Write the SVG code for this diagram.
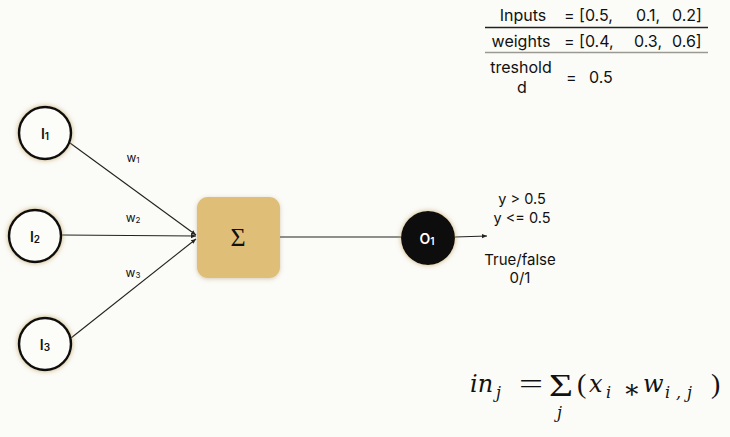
<svg xmlns="http://www.w3.org/2000/svg" width="730" height="437" viewBox="0 0 730 437">
<defs>
<style>
.t{font-family:Inter,"Liberation Sans",sans-serif;fill:#111;}
.tab{font-size:16px;}
.nd{fill:#fcfcf8;stroke:#111;stroke-width:2.5;}
.lbl{font-family:Inter,"Liberation Sans",sans-serif;font-weight:600;font-size:14px;fill:#111;}
.w{font-family:Inter,"Liberation Sans",sans-serif;font-size:12px;fill:#111;}
.edge{stroke:#222;stroke-width:1.1;fill:none;}
.m{font-family:"DejaVu Serif","Liberation Serif",serif;font-style:italic;fill:#111;}
.r{font-family:"Liberation Serif","DejaVu Serif",serif;fill:#111;}
</style>
<filter id="glow" x="-50%" y="-50%" width="200%" height="200%">
<feDropShadow dx="0" dy="0" stdDeviation="2.6" flood-color="#b89858" flood-opacity="0.75"/>
</filter>
<filter id="sh" x="-20%" y="-20%" width="140%" height="140%">
<feDropShadow dx="0" dy="1" stdDeviation="2" flood-color="#8a7040" flood-opacity="0.35"/>
</filter>
<marker id="arr" markerWidth="6" markerHeight="6" refX="5" refY="3" orient="auto" markerUnits="userSpaceOnUse">
<path d="M0,0.8 L5,3 L0,5.2 Z" fill="#222"/>
</marker>
</defs>
<rect width="730" height="437" fill="#fbfbf7"/>

<g id="table">
<text class="t tab" x="523" y="21" text-anchor="middle">Inputs</text>
<text class="t tab" x="564" y="21">= [0.5,</text>
<text class="t tab" x="636" y="21">0.1,</text>
<text class="t tab" x="672" y="21">0.2]</text>
<line x1="485" y1="27.5" x2="708" y2="27.5" stroke="#222" stroke-width="1.6"/>
<text class="t tab" x="521" y="47" text-anchor="middle">weights</text>
<text class="t tab" x="564" y="47">= [0.4,</text>
<text class="t tab" x="634" y="47">0.3,</text>
<text class="t tab" x="672" y="47">0.6]</text>
<line x1="485" y1="52.5" x2="708" y2="52.5" stroke="#9a9a92" stroke-width="1.6"/>
<text class="t tab" x="521" y="73" text-anchor="middle">treshold</text>
<text class="t tab" x="522" y="93" text-anchor="middle">d</text>
<text class="t tab" x="566" y="83">=</text>
<text class="t tab" x="589" y="83">0.5</text>
</g>

<g id="connectors">
<line class="edge" x1="70" y1="143" x2="196" y2="235" marker-end="url(#arr)"/>
<line class="edge" x1="62" y1="235" x2="196" y2="236" marker-end="url(#arr)"/>
<line class="edge" x1="71" y1="338" x2="196" y2="239" marker-end="url(#arr)"/>
<line class="edge" x1="280" y1="237" x2="401" y2="237"/>
<line class="edge" x1="455" y1="237" x2="487" y2="236" marker-end="url(#arr)"/>
<text class="w" x="133" y="162" text-anchor="middle">w<tspan font-size="8" dy="1">1</tspan></text>
<text class="w" x="133" y="222" text-anchor="middle">w<tspan font-size="8" dy="1">2</tspan></text>
<text class="w" x="133" y="277" text-anchor="middle">w<tspan font-size="8" dy="1">3</tspan></text>
</g>

<g id="I1">
<circle class="nd" cx="45" cy="133" r="26" filter="url(#glow)"/>
<text class="lbl" x="45" y="139" text-anchor="middle">I<tspan font-size="10" dy="1">1</tspan></text>
</g>
<g id="I2">
<circle class="nd" cx="35" cy="236" r="26" filter="url(#glow)"/>
<text class="lbl" x="35" y="242" text-anchor="middle">I<tspan font-size="10" dy="1">2</tspan></text>
</g>
<g id="I3">
<circle class="nd" cx="45" cy="344" r="26" filter="url(#glow)"/>
<text class="lbl" x="45" y="350" text-anchor="middle">I<tspan font-size="10" dy="1">3</tspan></text>
</g>

<g id="sum">
<rect x="197" y="197" width="83" height="81" rx="11" fill="#dfbe78" filter="url(#sh)"/>
<text class="r" x="238" y="246" text-anchor="middle" font-size="26">Σ</text>
</g>

<g id="O1">
<circle cx="428" cy="238" r="27" fill="#0a0a0a" filter="url(#glow)"/>
<text x="427" y="244" text-anchor="middle" font-family="Inter,'Liberation Sans',sans-serif" font-weight="600" font-size="14" fill="#fff">O<tspan font-size="10" dy="1">1</tspan></text>
</g>

<g id="output-text">
<text class="t" font-size="14.5" x="522" y="204" text-anchor="middle">y &gt; 0.5</text>
<text class="t" font-size="14.5" x="522" y="223" text-anchor="middle">y &lt;= 0.5</text>
<text class="t" font-size="15" x="520" y="265" text-anchor="middle">True/false</text>
<text class="t" font-size="15" x="520" y="283" text-anchor="middle">0/1</text>
</g>

<g id="formula">
<text class="m" font-size="24" x="470" y="392">in</text>
<text class="m" font-size="16" x="496" y="398">j</text>
<text class="r" font-size="28" x="519" y="393" textLength="24" lengthAdjust="spacingAndGlyphs">=</text>
<text class="r" font-size="32" x="549" y="396" textLength="24" lengthAdjust="spacingAndGlyphs">Σ</text>
<text class="m" font-size="16" x="557" y="418">j</text>
<text class="r" font-size="28" x="577" y="393">(</text>
<text class="m" font-size="24" x="589" y="392">x</text>
<text class="m" font-size="16" x="606" y="398">i</text>
<text class="r" font-size="26" x="623" y="398">∗</text>
<text class="m" font-size="24" x="643" y="392">w</text>
<text class="m" font-size="16" x="665" y="398" textLength="27" lengthAdjust="spacing">i,j</text>
<text class="r" font-size="28" x="711" y="393">)</text>
</g>
</svg>
